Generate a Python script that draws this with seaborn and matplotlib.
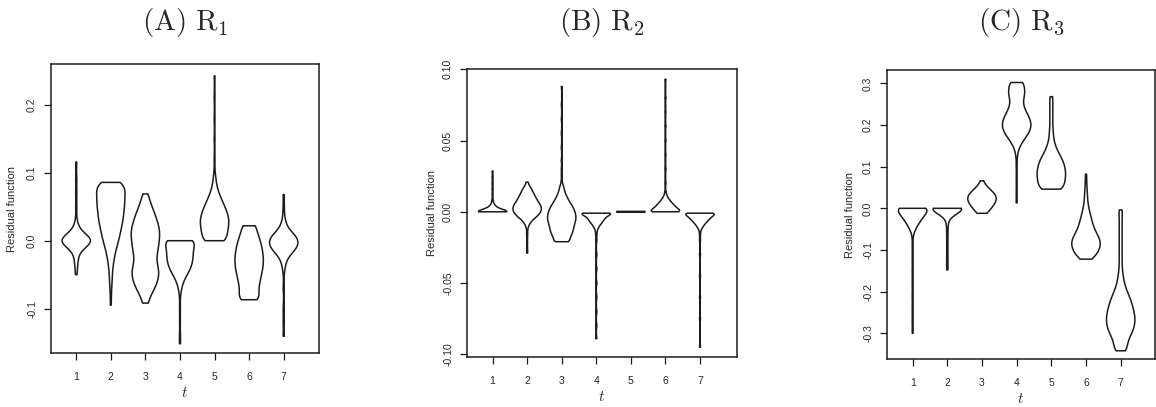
import numpy as np
import pandas as pd
import matplotlib
matplotlib.use("Agg")
import matplotlib.pyplot as plt
import seaborn as sns

# ---------------- data (value, count) ----------------
t_labels = ["1", "2", "3", "4", "5", "6", "7"]

# (A) R1
r1_t1 = [(0.116, 1), (0.09, 1), (0.07, 1), (0.05, 1), (0.03, 1), (0.02, 2), (0.01, 8), (0.0, 20),
         (-0.01, 8), (-0.02, 2), (-0.03, 2), (-0.04, 1), (-0.05, 1)]
r1_t2 = [(0.086, 14), (0.078, 16), (0.07, 18), (0.06, 20), (0.05, 19), (0.04, 18), (0.03, 17), (0.02, 15),
         (0.01, 13), (0.0, 11), (-0.01, 8), (-0.02, 6), (-0.03, 4), (-0.04, 3), (-0.05, 2), (-0.06, 2),
         (-0.07, 1), (-0.08, 1), (-0.095, 1)]
r1_t3 = [(0.069, 3), (0.06, 6), (0.05, 9), (0.04, 13), (0.03, 16), (0.02, 19), (0.01, 20), (0.0, 19),
         (-0.01, 18), (-0.02, 16), (-0.03, 15), (-0.04, 18), (-0.05, 19), (-0.06, 17), (-0.07, 13),
         (-0.08, 8), (-0.092, 5)]
r1_t4 = [(0.0, 26), (-0.01, 18), (-0.02, 19), (-0.03, 18), (-0.04, 16), (-0.05, 10), (-0.06, 5),
         (-0.07, 2), (-0.08, 1), (-0.1, 1), (-0.12, 1), (-0.14, 1), (-0.152, 1)]
r1_t5 = [(0.0, 17), (0.01, 17), (0.02, 19), (0.03, 20), (0.04, 18), (0.05, 14), (0.06, 10), (0.07, 6),
         (0.08, 3), (0.09, 2), (0.1, 1), (0.12, 1), (0.15, 1), (0.18, 1), (0.21, 1), (0.243, 1)]
r1_t6 = [(0.022, 12), (0.01, 13), (0.0, 15), (-0.01, 18), (-0.02, 19), (-0.03, 20), (-0.04, 19),
         (-0.05, 17), (-0.06, 15), (-0.07, 13), (-0.08, 12), (-0.087, 12)]
r1_t7 = [(0.068, 1), (0.05, 1), (0.035, 1), (0.026, 2), (0.016, 5), (0.006, 14), (-0.004, 16),
         (-0.014, 12), (-0.024, 4), (-0.034, 2), (-0.045, 1), (-0.07, 1), (-0.1, 1), (-0.12, 1), (-0.141, 1)]

# (B) R2
r2_t1 = [(0.0, 30), (0.002, 7), (0.004, 4), (0.006, 1), (0.008, 1), (0.012, 1), (0.016, 1), (0.02, 1),
         (0.024, 1), (0.0286, 1)]
r2_t2 = [(0.0208, 2), (0.018, 4), (0.016, 6), (0.014, 8), (0.012, 10), (0.01, 12), (0.008, 14), (0.006, 17),
         (0.004, 19), (0.002, 20), (0.0, 19), (-0.002, 16), (-0.004, 12), (-0.006, 7), (-0.008, 4),
         (-0.01, 2), (-0.012, 1), (-0.015, 1), (-0.018, 1), (-0.022, 1), (-0.026, 1), (-0.029, 1)]
r2_t3 = [(-0.021, 12), (-0.019, 11), (-0.017, 13), (-0.015, 15), (-0.013, 16), (-0.011, 17), (-0.009, 18),
         (-0.007, 19), (-0.005, 20), (-0.003, 20), (-0.001, 19), (0.001, 18), (0.003, 16), (0.005, 14),
         (0.007, 11), (0.009, 9), (0.011, 7), (0.013, 5), (0.015, 4), (0.017, 3), (0.019, 2), (0.022, 1),
         (0.026, 1), (0.03, 1), (0.036, 1), (0.045, 1), (0.055, 1), (0.065, 1), (0.075, 1), (0.088, 1)]
r2_t4 = [(-0.001, 20), (-0.003, 9), (-0.005, 8), (-0.007, 6), (-0.009, 4), (-0.011, 2), (-0.013, 1),
         (-0.016, 1), (-0.02, 1), (-0.03, 1), (-0.04, 1), (-0.05, 1), (-0.06, 1), (-0.07, 1), (-0.08, 1),
         (-0.089, 1)]
r2_t5 = [(-0.0003, 1), (0.0, 2), (0.0003, 1)]
r2_t6 = [(0.0, 22), (0.002, 14), (0.004, 11), (0.006, 8), (0.008, 5), (0.01, 3), (0.012, 1), (0.014, 1),
         (0.02, 1), (0.03, 1), (0.04, 1), (0.05, 1), (0.06, 1), (0.07, 1), (0.08, 1), (0.093, 1)]
r2_t7 = [(-0.001, 22), (-0.003, 14), (-0.005, 11), (-0.007, 8), (-0.009, 5), (-0.011, 3), (-0.013, 1),
         (-0.016, 1), (-0.02, 1), (-0.03, 1), (-0.045, 1), (-0.06, 1), (-0.075, 1), (-0.095, 1)]

# (C) R3
r3_t1 = [(0.0, 26), (-0.015, 15), (-0.03, 10), (-0.045, 5), (-0.06, 1), (-0.09, 1), (-0.12, 1),
         (-0.15, 1), (-0.18, 1), (-0.21, 1), (-0.24, 1), (-0.27, 1), (-0.3, 1)]
r3_t2 = [(0.0, 30), (-0.01, 6), (-0.02, 2), (-0.035, 1), (-0.05, 1), (-0.07, 1), (-0.09, 1), (-0.11, 1),
         (-0.13, 1), (-0.148, 1)]
r3_t3 = [(0.066, 1), (0.055, 3), (0.045, 8), (0.035, 15), (0.025, 18), (0.015, 14), (0.005, 12),
         (-0.005, 8), (-0.012, 3)]
r3_t4 = [(0.302, 9), (0.29, 9), (0.275, 12), (0.26, 8), (0.245, 9), (0.23, 13), (0.215, 18), (0.2, 20),
         (0.185, 18), (0.17, 12), (0.155, 6), (0.14, 2), (0.125, 1), (0.1, 1), (0.07, 1), (0.04, 1),
         (0.013, 1)]
r3_t5 = [(0.268, 2), (0.255, 2), (0.24, 2), (0.225, 2), (0.21, 2), (0.195, 2), (0.18, 3), (0.165, 3),
         (0.15, 6), (0.135, 9), (0.12, 15), (0.105, 18), (0.09, 20), (0.075, 20), (0.06, 18), (0.046, 16)]
r3_t6 = [(0.082, 1), (0.065, 1), (0.05, 1), (0.035, 2), (0.02, 2), (0.005, 3), (-0.01, 5), (-0.025, 7),
         (-0.04, 9), (-0.055, 12), (-0.07, 17), (-0.085, 20), (-0.1, 16), (-0.112, 10), (-0.122, 5)]
r3_t7 = [(-0.004, 3), (-0.02, 2), (-0.035, 2), (-0.05, 2), (-0.065, 2), (-0.08, 2), (-0.095, 2), (-0.11, 2),
         (-0.125, 2), (-0.14, 2), (-0.155, 3), (-0.17, 4), (-0.185, 6), (-0.2, 9), (-0.215, 13), (-0.23, 16),
         (-0.245, 18), (-0.26, 20), (-0.275, 20), (-0.29, 18), (-0.305, 14), (-0.32, 9), (-0.332, 6),
         (-0.342, 7)]

titles = [r"$\mathrm{(A)\ R_1}$", r"$\mathrm{(B)\ R_2}$", r"$\mathrm{(C)\ R_3}$"]
yticks_a = [-0.1, 0.0, 0.1, 0.2]
ylabels_a = ["-0.1", "0.0", "0.1", "0.2"]
yticks_b = [-0.10, -0.05, 0.0, 0.05, 0.10]
ylabels_b = ["-0.10", "-0.05", "0.00", "0.05", "0.10"]
yticks_c = [-0.3, -0.2, -0.1, 0.0, 0.1, 0.2, 0.3]
ylabels_c = ["-0.3", "-0.2", "-0.1", "0.0", "0.1", "0.2", "0.3"]


def build_frame(violins):
    rows = []
    for t, pairs in zip(t_labels, violins):
        for v, n in pairs:
            rows.extend([(t, v)] * n)
    return pd.DataFrame(rows, columns=["t", "value"])


def abs_bw(h):
    return lambda k: h / np.std(k.dataset, ddof=1)


# ---------------- styling ----------------
sns.set_style("ticks")
plt.rcParams["font.family"] = ["Liberation Sans", "DejaVu Sans"]
plt.rcParams["mathtext.fontset"] = "cm"

W, H = 1156, 407
fig = plt.figure(figsize=(W / 100, H / 100), dpi=100)

panels = [
    dict(violins=[r1_t1, r1_t2, r1_t3, r1_t4, r1_t5, r1_t6, r1_t7], box=(51, 64, 319, 353),
         ylim=(-0.1656, 0.2606), xlim=(-0.73, 7.02), yt=yticks_a, yl=ylabels_a, h=0.008, ylab_x=-0.125),
    dict(violins=[r2_t1, r2_t2, r2_t3, r2_t4, r2_t5, r2_t6, r2_t7], box=(467, 69, 737, 357),
         ylim=(-0.1019, 0.1002), xlim=(-0.74, 7.07), yt=yticks_b, yl=ylabels_b, h=0.0015, ylab_x=-0.111),
    dict(violins=[r3_t1, r3_t2, r3_t3, r3_t4, r3_t5, r3_t6, r3_t7], box=(887, 70, 1155, 359),
         ylim=(-0.3617, 0.332), xlim=(-0.74, 6.99), yt=yticks_c, yl=ylabels_c, h=0.012, ylab_x=-0.119),
]

for p, title in zip(panels, titles):
    l, t, r, b = p["box"]
    ax = fig.add_axes([l / W, 1 - b / H, (r - l) / W, (b - t) / H])
    df = build_frame(p["violins"])
    sns.violinplot(data=df, x="t", y="value", order=t_labels, ax=ax, fill=False, color="#1c1c1c",
                   linewidth=1.1, inner=None, cut=0, density_norm="width", width=0.82,
                   bw_method=abs_bw(p["h"]), gridsize=250)
    ax.set_xlim(*p["xlim"])
    ax.set_ylim(*p["ylim"])
    ax.set_yticks(p["yt"], p["yl"], rotation=90, va="center", fontsize=7.5)
    ax.set_xticks(range(7), t_labels, fontsize=7.5)
    ax.tick_params(axis="both", direction="out", length=5, width=0.9, color="#1c1c1c")
    ax.tick_params(axis="y", pad=5)
    ax.tick_params(axis="x", pad=9)
    for sp in ax.spines.values():
        sp.set_visible(True)
        sp.set_linewidth(1.1)
        sp.set_color("#1c1c1c")
    ax.set_ylabel("Residual function", fontsize=8)
    ax.yaxis.set_label_coords(p["ylab_x"], 0.5)
    ax.set_xlabel(r"$t$", fontsize=11)
    ax.xaxis.set_label_coords(0.5, -0.115)
    fig.text((l + r) / 2 / W, 1 - 30 / H, title, ha="center", va="baseline", fontsize=21)

fig.savefig("out.png", dpi=100)
